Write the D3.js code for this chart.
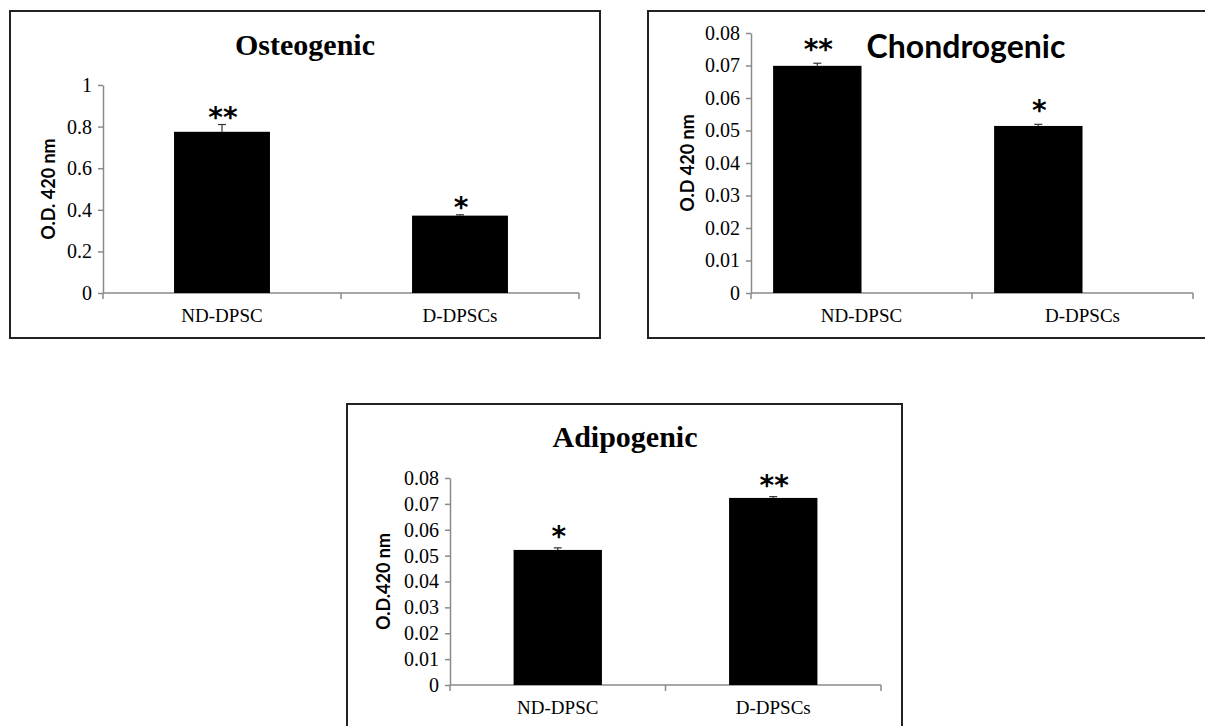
<!DOCTYPE html>
<html>
<head>
<meta charset="utf-8">
<script src="https://cdn.jsdelivr.net/npm/d3@7"></script>
<style>
  html, body { margin: 0; padding: 0; background: #fff; }
  svg { display: block; }
  .serif { font-family: "Liberation Serif", "Times New Roman", Tinos, "DejaVu Serif", serif; }
  .sans { font-family: Lato, "Open Sans", sans-serif; }
  .star { font-family: "DejaVu Sans", sans-serif; }
</style>
</head>
<body>
<svg id="chart" width="1205" height="726"></svg>
<script>
// ---------------- DATA ----------------
const categories = ["ND-DPSC", "D-DPSCs"];

const osteoValues = [0.775, 0.372];
const osteoErrors = [0.035, 0.004];
const osteoStars = ["**", "*"];
const osteoTicks = [0, 0.2, 0.4, 0.6, 0.8, 1];
const osteoTickLabels = ["0", "0.2", "0.4", "0.6", "0.8", "1"];

const chondroValues = [0.0699, 0.0514];
const chondroErrors = [0.0008, 0.0005];
const chondroStars = ["**", "*"];
const chondroTicks = [0, 0.01, 0.02, 0.03, 0.04, 0.05, 0.06, 0.07, 0.08];
const chondroTickLabels = ["0", "0.01", "0.02", "0.03", "0.04", "0.05", "0.06", "0.07", "0.08"];

const adipoValues = [0.0522, 0.0723];
const adipoErrors = [0.0008, 0.0005];
const adipoStars = ["*", "**"];
const adipoTicks = [0, 0.01, 0.02, 0.03, 0.04, 0.05, 0.06, 0.07, 0.08];
const adipoTickLabels = ["0", "0.01", "0.02", "0.03", "0.04", "0.05", "0.06", "0.07", "0.08"];

// ---------------- LAYOUT ----------------
const AXIS_COLOR = "#8a8a8a";

const svg = d3.select("#chart");
svg.append("rect").attr("width", 1205).attr("height", 726).attr("fill", "#fff");

function drawPanel(cfg) {
  const g = svg.append("g");

  g.append("rect")
    .attr("x", cfg.frame[0]).attr("y", cfg.frame[1])
    .attr("width", cfg.frame[2] - cfg.frame[0]).attr("height", cfg.frame[3] - cfg.frame[1])
    .attr("fill", "none").attr("stroke", "#222").attr("stroke-width", 2);

  const y = d3.scaleLinear().domain([0, cfg.ticks[cfg.ticks.length - 1]]).range(cfg.yRange);
  const pIn = cfg.padInner;
  const x0 = d3.scaleBand().domain(categories).range(cfg.xRange)
    .paddingInner(pIn).paddingOuter(pIn / 2);
  const x1 = d3.scaleBand().domain(cfg.series).range([0, x0.bandwidth()]);

  // y axis
  const yAxis = d3.axisLeft(y)
    .tickValues(cfg.ticks)
    .tickFormat((d, i) => cfg.tickLabels[i])
    .tickSize(5).tickSizeOuter(0).tickPadding(6);
  const ya = g.append("g").attr("transform", `translate(${cfg.xRange[0]},0)`).call(yAxis);
  ya.attr("font-family", null).attr("font-size", null);
  ya.select(".domain").attr("stroke", AXIS_COLOR).attr("stroke-width", 1.5);
  ya.selectAll(".tick line").attr("stroke", AXIS_COLOR).attr("stroke-width", 1.5);
  ya.selectAll(".tick text").attr("class", "serif").style("font-size", "20px").attr("fill", "#000");

  // x axis
  const y0 = y(0);
  g.append("line")
    .attr("x1", cfg.xRange[0]).attr("x2", cfg.xRange[1])
    .attr("y1", y0).attr("y2", y0)
    .attr("stroke", AXIS_COLOR).attr("stroke-width", 1.5);
  const bounds = d3.range(categories.length + 1).map(i => cfg.xRange[0] + i * x0.step());
  g.selectAll(".xtick").data(bounds).enter().append("line")
    .attr("x1", d => d).attr("x2", d => d)
    .attr("y1", y0).attr("y2", y0 + 6)
    .attr("stroke", AXIS_COLOR).attr("stroke-width", 1.5);
  g.selectAll(".xlab").data(categories).enter().append("text")
    .attr("class", "serif")
    .attr("x", d => x0(d) + x0.bandwidth() / 2)
    .attr("y", y0 + 29)
    .attr("text-anchor", "middle")
    .style("font-size", "19px").attr("fill", "#000")
    .text(d => d);

  const barData = categories.map((c, i) => ({ c, v: cfg.values[i], e: cfg.errors[i], s: cfg.stars[i] }));
  const bx = d => x0(d.c) + x1(cfg.series[0]);
  const bw = x1.bandwidth();

  // error bars (upper)
  g.selectAll(".err").data(barData).enter().append("line")
    .attr("x1", d => bx(d) + bw / 2).attr("x2", d => bx(d) + bw / 2)
    .attr("y1", d => y(d.v)).attr("y2", d => y(d.v + d.e))
    .attr("stroke", "#333").attr("stroke-width", 1.2);
  g.selectAll(".cap").data(barData).enter().append("line")
    .attr("x1", d => bx(d) + bw / 2 - 4).attr("x2", d => bx(d) + bw / 2 + 4)
    .attr("y1", d => y(d.v + d.e)).attr("y2", d => y(d.v + d.e))
    .attr("stroke", "#333").attr("stroke-width", 1.2);

  // bars
  g.selectAll(".bar").data(barData).enter().append("rect")
    .attr("x", bx).attr("width", bw)
    .attr("y", d => y(d.v)).attr("height", d => y0 - y(d.v))
    .attr("fill", "#000");

  // significance stars
  g.selectAll(".starlab").data(barData).enter().append("text")
    .attr("class", "star")
    .attr("x", d => bx(d) + bw / 2 + 1)
    .attr("y", d => y(d.v + d.e) - cfg.starGap)
    .attr("text-anchor", "middle")
    .style("font-size", "28px").style("font-weight", "bold")
    .attr("fill", "#000")
    .text(d => d.s);

  // title
  g.append("text")
    .attr("class", cfg.titleClass)
    .attr("x", cfg.titlePos[0]).attr("y", cfg.titlePos[1])
    .attr("text-anchor", "middle")
    .style("font-weight", "bold").style("font-size", cfg.titleSize + "px")
    .attr("fill", "#000")
    .text(cfg.title);

  // y label
  const ymid = (cfg.yRange[0] + cfg.yRange[1]) / 2;
  g.append("text")
    .attr("class", "sans")
    .attr("transform", `translate(${cfg.yLabelX},${ymid}) rotate(-90)`)
    .attr("text-anchor", "middle").attr("dominant-baseline", "central")
    .style("font-weight", "bold").style("font-size", "18px")
    .attr("fill", "#000")
    .text(cfg.yLabel);
}

drawPanel({
  frame: [10, 11, 600, 338],
  xRange: [103, 579], yRange: [293, 85],
  padInner: 0.597, series: ["value"],
  values: osteoValues, errors: osteoErrors, stars: osteoStars,
  ticks: osteoTicks, tickLabels: osteoTickLabels,
  title: "Osteogenic", titleClass: "serif", titleSize: 30, titlePos: [305, 55],
  yLabel: "O.D. 420 nm", yLabelX: 48, starGap: -2
});

drawPanel({
  frame: [648, 11, 1215, 338],
  xRange: [751, 1193], yRange: [293, 33],
  padInner: 0.2, series: ["value", "blank"],
  values: chondroValues, errors: chondroErrors, stars: chondroStars,
  ticks: chondroTicks, tickLabels: chondroTickLabels,
  title: "Chondrogenic", titleClass: "sans", titleSize: 32, titlePos: [966, 58],
  yLabel: "O.D 420 nm", yLabelX: 687, starGap: 4
});

drawPanel({
  frame: [347, 404, 902, 740],
  xRange: [450, 881], yRange: [685, 478],
  padInner: 0.59, series: ["value"],
  values: adipoValues, errors: adipoErrors, stars: adipoStars,
  ticks: adipoTicks, tickLabels: adipoTickLabels,
  title: "Adipogenic", titleClass: "serif", titleSize: 30, titlePos: [625, 447],
  yLabel: "O.D.420 nm", yLabelX: 383, starGap: 2
});
</script>
</body>
</html>
